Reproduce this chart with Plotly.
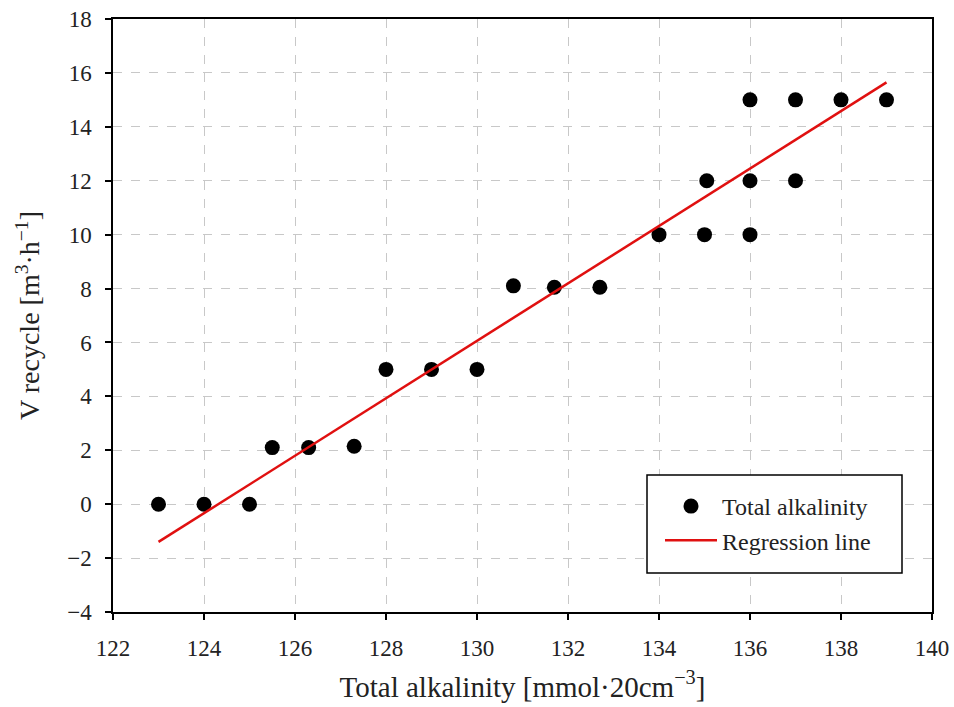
import plotly.graph_objects as go

alk_x = [123, 124, 125, 125.5, 126.3, 127.3, 128, 129, 130, 130.8, 131.7, 132.7,
         134, 135, 136, 135.05, 136, 137, 136, 137, 138, 139]
v_recycle = [0, 0, 0, 2.1, 2.1, 2.15, 5, 5, 5, 8.1, 8.05, 8.05,
             10, 10, 10, 12, 12, 12, 15, 15, 15, 15]
reg_x = [123, 139]
reg_y = [-1.4, 15.65]

x_ticks = list(range(122, 141, 2))
y_ticks = list(range(-4, 19, 2))

FONT = "Liberation Serif"

fig = go.Figure()
fig.add_trace(go.Scatter(x=alk_x, y=v_recycle, mode="markers", name="Total alkalinity",
                         marker=dict(color="black", size=15)))
fig.add_trace(go.Scatter(x=reg_x, y=reg_y, mode="lines", name="Regression line",
                         line=dict(color="#e01010", width=2.5)))

axis_common = dict(showline=True, linecolor="black", linewidth=1.5, mirror=True,
                   ticks="outside", ticklen=6, tickwidth=1.5, tickcolor="black",
                   showgrid=True, gridcolor="#c8c8c8", griddash="dash", gridwidth=1,
                   zeroline=False, automargin=False,
                   tickfont=dict(family=FONT, size=23, color="#222"))

fig.update_layout(
    width=954, height=707,
    margin=dict(l=113, r=22, t=19, b=95),
    paper_bgcolor="white", plot_bgcolor="white",
    font=dict(family=FONT, color="#222"),
    xaxis=dict(range=[122, 140], tickvals=x_ticks, ticklabelstandoff=9,
               title=dict(text="Total alkalinity [mmol·20cm<sup>−3</sup>]", font=dict(size=29), standoff=16),
               **axis_common),
    yaxis=dict(range=[-4, 18], tickvals=y_ticks, ticklabelstandoff=9,
               title=dict(text="V recycle [m<sup>3</sup>·h<sup>−1</sup>]", font=dict(size=28), standoff=19),
               **axis_common),
    legend=dict(x=(660 - 113) / 819, y=(612 - 484) / 593, xanchor="left", yanchor="top",
                bgcolor="rgba(0,0,0,0)", borderwidth=0, itemwidth=52,
                font=dict(family=FONT, size=24, color="#222"), tracegroupgap=0),
    showlegend=True,
    shapes=[dict(type="rect", xref="paper", yref="paper",
                 x0=(647 - 113) / 819, x1=(902 - 113) / 819,
                 y0=(612 - 573) / 593, y1=(612 - 475) / 593,
                 line=dict(color="black", width=1.5), fillcolor="white", layer="above")],
)

fig.write_html("out.html")
